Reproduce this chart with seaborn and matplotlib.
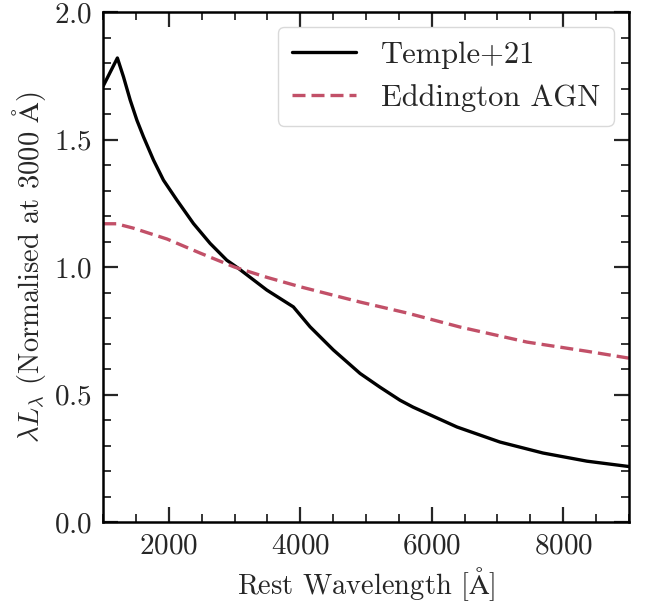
import numpy as np
import pandas as pd
import matplotlib
matplotlib.use("Agg")
import matplotlib.pyplot as plt
import seaborn as sns
from matplotlib.ticker import MultipleLocator

# values
wave_temple = [1000, 1216, 1309, 1411, 1513, 1613, 1765, 1917, 2121, 2373, 2627, 2881,
               3058, 3490, 3894, 4148, 4503, 4909, 5213, 5517, 5715, 6384, 7038, 7692,
               8361, 9000]
lum_temple = [1.71, 1.82, 1.746, 1.655, 1.576, 1.511, 1.420, 1.341, 1.263, 1.171, 1.093,
              1.027, 0.995, 0.910, 0.844, 0.766, 0.675, 0.583, 0.529, 0.478, 0.451, 0.373,
              0.314, 0.271, 0.239, 0.218]

wave_edd = [1000, 1200, 1456, 1973, 2475, 3000, 3490, 3996, 4909, 5624, 6430, 7449, 8361, 9000]
lum_edd = [1.17, 1.17, 1.153, 1.11, 1.055, 1.0, 0.96, 0.923, 0.863, 0.82, 0.765, 0.706, 0.67, 0.643]

sns.set_theme(style="ticks")
plt.rcParams["font.family"] = ["serif"]
plt.rcParams["font.serif"] = ["cmr10", "DejaVu Serif"]
plt.rcParams["mathtext.fontset"] = "cm"
plt.rcParams["axes.formatter.use_mathtext"] = True

df_t = pd.DataFrame({"wave": wave_temple, "lum": lum_temple})
df_e = pd.DataFrame({"wave": wave_edd, "lum": lum_edd})

fig, ax = plt.subplots(figsize=(6.49, 6.05), dpi=100)
fig.subplots_adjust(left=0.159, right=0.969, top=0.980, bottom=0.137)

sns.lineplot(data=df_t, x="wave", y="lum", ax=ax, color="black", lw=2.4,
             label="Temple+21", sort=False)
sns.lineplot(data=df_e, x="wave", y="lum", ax=ax, color="#C25068", lw=2.4,
             dashes=(3.9, 1.8), label="Eddington AGN", sort=False)
ax.lines[1].set_dashes((3.9, 1.8))

ax.set_xlim(1000, 9000)
ax.set_ylim(0, 2.0)
ax.xaxis.set_major_locator(MultipleLocator(2000))
ax.xaxis.set_minor_locator(MultipleLocator(500))
ax.yaxis.set_major_locator(MultipleLocator(0.5))
ax.yaxis.set_minor_locator(MultipleLocator(0.1))
ax.tick_params(which="both", direction="in", top=True, right=True, labelsize=21)
ax.tick_params(which="major", length=11, width=1.6, pad=8)
ax.tick_params(which="minor", length=6, width=1.3)
for s in ax.spines.values():
    s.set_linewidth(1.8)
    s.set_color("black")

ax.set_xlabel(r"Rest Wavelength [$\mathrm{\AA}$]", fontsize=20.5)
ax.set_ylabel(r"$\lambda L_\lambda$ (Normalised at 3000 $\mathrm{\AA}$)", fontsize=20.5)

leg = ax.legend(loc="upper right", fontsize=22, handlelength=2.1, borderpad=0.45,
                framealpha=0.8, edgecolor="#d0d0d0", fancybox=True)
leg.get_lines()[1].set_dashes((3.9, 1.8))

fig.savefig("out.png", dpi=100)
